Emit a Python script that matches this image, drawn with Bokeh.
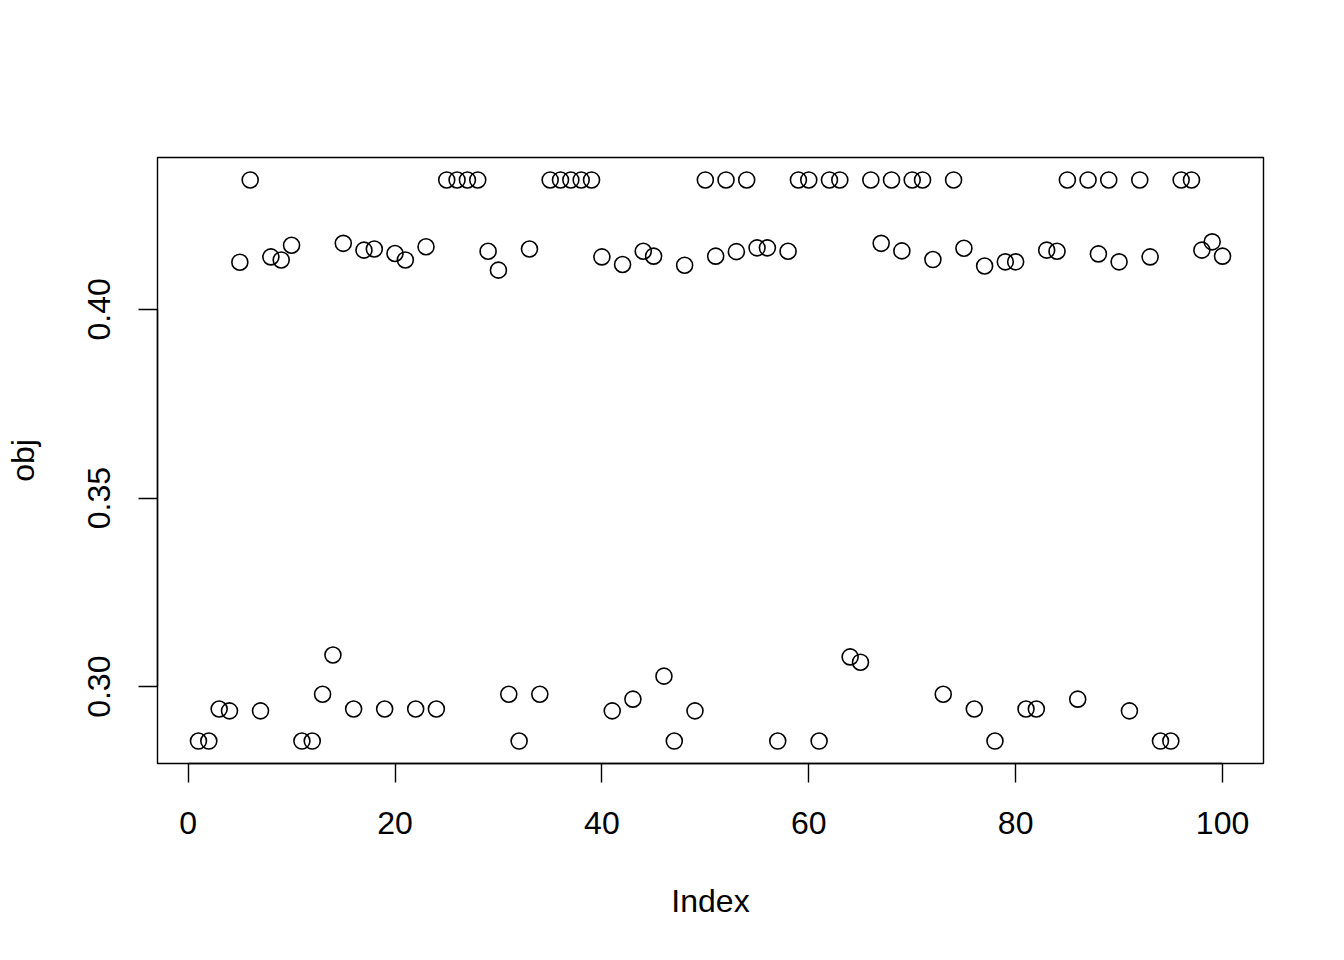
from bokeh.models import Range1d, FixedTicker, NumeralTickFormatter
from bokeh.plotting import figure
from bokeh.embed import file_html
from bokeh.resources import INLINE

# values (index 1..100)
index = list(range(1, 101))
obj = [
    0.2856, 0.2856, 0.2941, 0.2936, 0.4125, 0.4343, 0.2936, 0.4139, 0.4131, 0.4170,
    0.2856, 0.2856, 0.2980, 0.3084, 0.4175, 0.2941, 0.4157, 0.4160, 0.2941, 0.4148,
    0.4131, 0.2941, 0.4166, 0.2941, 0.4343, 0.4343, 0.4343, 0.4343, 0.4154, 0.4104,
    0.2980, 0.2856, 0.4160, 0.2980, 0.4343, 0.4343, 0.4343, 0.4343, 0.4343, 0.4139,
    0.2936, 0.4119, 0.2967, 0.4154, 0.4141, 0.3028, 0.2856, 0.4117, 0.2936, 0.4343,
    0.4141, 0.4343, 0.4153, 0.4343, 0.4163, 0.4163, 0.2856, 0.4154, 0.4343, 0.4343,
    0.2856, 0.4343, 0.4343, 0.3079, 0.3065, 0.4343, 0.4175, 0.4343, 0.4155, 0.4343,
    0.4343, 0.4132, 0.2980, 0.4343, 0.4162, 0.2941, 0.4115, 0.2856, 0.4126, 0.4126,
    0.2941, 0.2941, 0.4157, 0.4154, 0.4343, 0.2967, 0.4343, 0.4147, 0.4343, 0.4126,
    0.2936, 0.4343, 0.4139, 0.2856, 0.2856, 0.4343, 0.4343, 0.4157, 0.4179, 0.4141,
]
x_ticks = [0, 20, 40, 60, 80, 100]
y_ticks = [0.30, 0.35, 0.40]

# R style 4% padding around the data
def padded(lo, hi):
    d = (hi - lo) * 0.04
    return lo - d, hi + d

x0, x1 = padded(min(index), max(index))
y0, y1 = padded(min(obj), max(obj))

FONT = "Liberation Sans"

p = figure(width=1328, height=944, output_backend="svg", toolbar_location=None,
           x_range=Range1d(x0, x1), y_range=Range1d(y0, y1),
           min_border_left=157, min_border_right=65,
           min_border_top=157, min_border_bottom=181)
p.background_fill_color = "white"
p.border_fill_color = "white"
p.outline_line_color = "black"
p.outline_line_width = 1.4
p.grid.visible = False

p.scatter(index, obj, marker="circle", size=16, fill_color=None,
          line_color="black", line_width=1.6)

for ax in (p.xaxis[0], p.yaxis[0]):
    ax.axis_line_width = 1.4
    ax.major_tick_line_width = 1.4
    ax.major_tick_in = 0
    ax.major_tick_out = 19
    ax.minor_tick_line_color = None
    ax.major_label_text_font = FONT
    ax.major_label_text_font_size = "32px"
    ax.major_label_text_color = "black"
    ax.axis_label_text_font = FONT
    ax.axis_label_text_font_size = "32px"
    ax.axis_label_text_font_style = "normal"
    ax.axis_label_text_color = "black"

p.xaxis.ticker = FixedTicker(ticks=x_ticks)
p.xaxis.bounds = (x_ticks[0], x_ticks[-1])
p.xaxis.axis_label = "Index"
p.xaxis.major_label_standoff = 29
p.xaxis.axis_label_standoff = 46

p.yaxis.ticker = FixedTicker(ticks=y_ticks)
p.yaxis.bounds = (y_ticks[0], y_ticks[-1])
p.yaxis.formatter = NumeralTickFormatter(format="0.00")
p.yaxis.major_label_orientation = "vertical"
p.yaxis.axis_label = "obj"
p.yaxis.major_label_standoff = 28
p.yaxis.axis_label_standoff = 45

open("out.html", "w").write(file_html(p, INLINE))
